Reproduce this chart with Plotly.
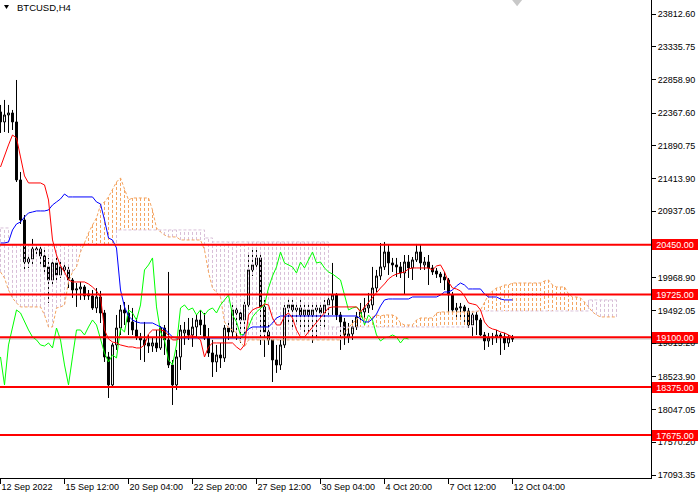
import plotly.graph_objects as go

# ---------------- data ----------------
symbol_title = "BTCUSD,H4"

bar_open = [22385, 22239, 22341, 22370, 22239, 21394, 20811, 20198, 20242, 20373,
            20388, 20286, 20126, 19936, 20184, 20009, 20126, 20082, 19936, 19790,
            19805, 19834, 19732, 19703, 19528, 19688, 19455, 18814, 18406, 18989,
            19236, 19499, 19455, 19324, 19207, 19105, 19062, 19018, 18974, 19018,
            18945, 19236, 19062, 18697, 18406, 18814, 19164, 19207, 19134, 19251,
            19353, 19280, 19091, 18872, 18741, 18843, 18799, 19236, 19178, 19499,
            19455, 19353, 19572, 20082, 20155, 20257, 19543, 19178, 19062, 18770,
            18697, 18989, 19528, 19572, 19499, 19528, 19426, 19499, 19426, 19499,
            19528, 19455, 19572, 19645, 19717, 19426, 19324, 19105, 19149, 19251,
            19397, 19470, 19528, 19572, 19819, 19994, 20126, 20344, 20184, 20155,
            20126, 20038, 20198, 20111, 20228, 20344, 20155, 20198, 20111, 20067,
            20023, 19980, 19936, 19717, 19499, 19528, 19543, 19484, 19280, 19426,
            19353, 19134, 19047, 19091, 19105, 19134, 19105, 19018, 19091]

bar_high = [22487, 22560, 22487, 22414, 22851, 21510, 20883, 20286, 20534, 20446,
            20417, 20373, 20257, 20242, 20257, 20198, 20198, 20155, 19965, 19892,
            19907, 19863, 19790, 19790, 19819, 19776, 19499, 18887, 19018, 19426,
            19572, 19615, 19572, 19528, 19382, 19164, 19324, 19134, 19091, 19207,
            19266, 19280, 20053, 18770, 18916, 19280, 19324, 19382, 19382, 19426,
            19499, 19455, 19236, 19062, 18989, 19018, 19280, 19309, 19572, 19572,
            19499, 19645, 20300, 20373, 20373, 20344, 19645, 19280, 19105, 18989,
            19062, 19572, 19674, 19674, 19615, 19674, 19601, 19601, 19572, 19601,
            19572, 19645, 19688, 20184, 19747, 19470, 19382, 19309, 19353, 19470,
            19601, 19674, 19747, 20126, 20082, 20475, 20490, 20446, 20257, 20257,
            20198, 20300, 20300, 20271, 20461, 20446, 20271, 20300, 20155, 20111,
            20053, 20053, 19965, 19761, 19601, 19601, 19572, 19528, 19470, 19470,
            19382, 19178, 19164, 19164, 19207, 19164, 19164, 19134, 19134]

bar_low = [22079, 22093, 22079, 22122, 21364, 20752, 20053, 20111, 20140, 20286,
           20155, 20038, 19601, 19863, 19892, 19965, 20009, 19819, 19674, 19543,
           19645, 19645, 19645, 19499, 19455, 19309, 18741, 18216, 18362, 18916,
           19134, 19280, 19134, 19134, 19062, 18770, 18741, 18872, 18887, 18887,
           18916, 18843, 18653, 18114, 18333, 18624, 18989, 19062, 18960, 19091,
           19134, 19062, 18814, 18522, 18595, 18653, 18741, 19062, 19105, 19062,
           19018, 19091, 19499, 19994, 20111, 18989, 18814, 18989, 18449, 18581,
           18624, 18945, 19324, 19207, 19324, 19207, 19178, 19164, 19018, 19105,
           19266, 19251, 19397, 19426, 19353, 18916, 18989, 19018, 19062, 19207,
           19353, 19382, 19455, 19499, 19761, 19936, 20082, 20009, 20053, 19980,
           19965, 19717, 19965, 19936, 20198, 20082, 20082, 19863, 20009, 19965,
           19892, 19790, 19470, 19470, 19353, 19353, 19280, 19236, 19120, 19134,
           19120, 18916, 18960, 18989, 19018, 18843, 18916, 18960, 19032]

bar_close = [22239, 22341, 22370, 22239, 21394, 20811, 20198, 20242, 20388, 20388,
             20286, 20126, 19936, 20184, 20009, 20126, 20082, 19936, 19790, 19805,
             19834, 19703, 19703, 19528, 19688, 19455, 18814, 18406, 18989, 19236,
             19499, 19455, 19324, 19207, 19105, 19062, 18989, 18974, 19018, 18945,
             19236, 19062, 18697, 18406, 18814, 19207, 19207, 19134, 19251, 19353,
             19280, 19091, 18872, 18741, 18843, 18799, 19236, 19178, 19499, 19455,
             19353, 19572, 20082, 20155, 20257, 19543, 19178, 19062, 18770, 18697,
             18989, 19528, 19572, 19499, 19528, 19426, 19499, 19426, 19499, 19528,
             19455, 19572, 19645, 19717, 19426, 19324, 19134, 19149, 19251, 19397,
             19470, 19528, 19572, 19819, 19994, 20126, 20344, 20184, 20155, 20126,
             20038, 20198, 20111, 20228, 20344, 20184, 20198, 20111, 20053, 20023,
             19980, 19936, 19717, 19499, 19528, 19543, 19484, 19280, 19426, 19353,
             19134, 19047, 19091, 19105, 19134, 19105, 19018, 19091, 19076]

tenkan = [21583, 21758, 21904, 22049, 22006, 21729, 21452, 21350, 21350, 21350,
          21350, 21321, 21102, 20519, 20300, 20140, 20053, 19936, 19907, 19907,
          19907, 19907, 19878, 19834, 19776, 19688, 19207, 19076, 19032, 19018,
          18989, 18974, 18960, 18960, 18945, 18945, 18989, 19149, 19207, 19207,
          19207, 19193, 19120, 19062, 19062, 19091, 19105, 19120, 19120, 19105,
          19062, 18814, 18960, 19018, 19018, 19018, 19018, 19018, 19018, 18960,
          18916, 18989, 19426, 19499, 19528, 19543, 19586, 19572, 19382, 19280,
          19280, 19411, 19455, 19382, 19207, 19105, 19105, 19178, 19251, 19309,
          19382, 19470, 19528, 19543, 19543, 19543, 19543, 19543, 19543, 19543,
          19470, 19543, 19601, 19674, 19747, 19819, 19878, 19951, 19994, 20023,
          20038, 20053, 20096, 20111, 20111, 20111, 20111, 20111, 20082, 20140,
          20155, 20053, 19907, 19819, 19805, 19776, 19703, 19601, 19586, 19572,
          19499, 19324, 19251, 19222, 19207, 19178, 19164, 19134, 19105]

kijun = [20475, 20475, 20490, 20665, 20752, 20781, 20854, 20913, 20927, 20942,
         20942, 20942, 20956, 21029, 21073, 21117, 21189, 21146, 21146, 21146,
         21146, 21146, 21146, 21146, 21073, 21044, 20810, 20548, 20519, 20402,
         19790, 19543, 19411, 19353, 19324, 19309, 19309, 19309, 19309, 19280,
         19251, 19222, 19164, 19105, 19091, 19091, 19091, 19091, 19091, 19091,
         19091, 19091, 19091, 19091, 19091, 19091, 19091, 19091, 19091, 19091,
         19091, 19149, 19222, 19251, 19251, 19251, 19251, 19251, 19309, 19382,
         19411, 19411, 19411, 19411, 19411, 19411, 19411, 19411, 19411, 19411,
         19411, 19411, 19411, 19411, 19411, 19411, 19411, 19411, 19411, 19411,
         19368, 19324, 19324, 19368, 19440, 19557, 19645, 19659, 19659, 19659,
         19659, 19659, 19659, 19688, 19688, 19688, 19688, 19688, 19688, 19688,
         19717, 19761, 19761, 19790, 19849, 19892, 19863, 19805, 19805, 19805,
         19805, 19732, 19688, 19688, 19688, 19659, 19645, 19645, 19645]

senkou_a = [20053, 19965, 19790, 19674, 19601, 19543, 19543, 19543, 19543, 19543,
            19543, 19426, 19251, 19251, 19528, 19543, 19572, 19907, 20053, 20126,
            20344, 20475, 20621, 20737, 20840, 21029, 21073, 21146, 21248, 21364,
            21423, 21248, 21102, 21131, 21131, 21131, 21131, 21131, 20956, 20694,
            20635, 20592, 20563, 20563, 20563, 20519, 20519, 20519, 20519, 20519,
            20519, 20373, 20053, 19819, 19761, 19688, 19324, 19236, 19207, 19164,
            19032, 18960, 19062, 19062, 19062, 19062, 19062, 19062, 19062, 19062,
            19062, 19062, 19062, 19062, 19062, 19062, 19062, 19062, 19062, 19062,
            19062, 19062, 19062, 19062, 19062, 19062, 19164, 19236, 19309, 19353,
            19426, 19382, 19353, 19397, 19426, 19411, 19426, 19426, 19426, 19397,
            19309, 19280, 19280, 19280, 19353, 19382, 19382, 19382, 19382, 19455,
            19470, 19470, 19470, 19470, 19470, 19470, 19470, 19470, 19470, 19470,
            19499, 19615, 19717, 19776, 19819, 19834, 19863, 19863, 19892, 19892,
            19892, 19892, 19892, 19892, 19892, 19892, 19921, 19936, 19863, 19834,
            19834, 19834, 19732, 19688, 19688, 19674, 19615, 19543, 19470, 19426,
            19397, 19397, 19397, 19397, 19397]

senkou_b = [20694, 20694, 20446, 20446, 20446, 20446, 20446, 20446, 20446, 20446,
            20446, 20446, 20446, 20446, 20446, 20446, 20446, 20446, 20446, 20446,
            20446, 20446, 20446, 20446, 20446, 20446, 20446, 20446, 20446, 20665,
            20665, 20665, 20665, 20665, 20665, 20665, 20665, 20665, 20665, 20665,
            20665, 20665, 20665, 20665, 20665, 20665, 20665, 20665, 20665, 20665,
            20665, 20548, 20548, 20490, 20490, 20490, 20490, 20490, 20490, 20490,
            20490, 20490, 20490, 20490, 20490, 20490, 20490, 20490, 20490, 20490,
            20490, 20490, 20490, 20490, 20490, 20490, 20490, 20490, 20490, 20490,
            20490, 20490, 19251, 19251, 19251, 19251, 19251, 19251, 19251, 19251,
            19251, 19251, 19251, 19251, 19251, 19251, 19251, 19251, 19251, 19251,
            19251, 19251, 19251, 19251, 19251, 19251, 19251, 19251, 19251, 19251,
            19251, 19251, 19251, 19251, 19251, 19251, 19251, 19251, 19484, 19484,
            19484, 19484, 19484, 19484, 19484, 19484, 19484, 19484, 19484, 19484,
            19484, 19484, 19484, 19484, 19484, 19484, 19484, 19484, 19484, 19484,
            19484, 19484, 19484, 19484, 19484, 19484, 19484, 19645, 19645, 19645,
            19645, 19645, 19645, 19645, 19645]

chikou_shift = 26
bid_price = 19076

level_prices = [20450.00, 19725.00, 19100.00, 18375.00, 17675.00]

x_tick_bars = [0, 16, 32, 48, 64, 80, 96, 112, 128]
x_tick_labels = ["12 Sep 2022", "15 Sep 12:00", "20 Sep 04:00", "22 Sep 20:00",
                 "27 Sep 12:00", "30 Sep 04:00", "4 Oct 20:00", "7 Oct 12:00",
                 "12 Oct 04:00"]

y_tick_values = [23812.60, 23335.75, 22858.90, 22367.60, 21890.75, 21413.90,
                 20937.05, 19968.90, 19492.05, 19015.20, 18523.90, 18047.05,
                 17570.20, 17093.35]

# ---------------- styles ----------------
FONT = "Liberation Sans, Arial, sans-serif"
C_TENKAN = "#FF0000"
C_KIJUN = "#0000FF"
C_CHIKOU = "#00FF00"
C_SA = "#F4A460"
C_SB = "#D8BFD8"

idx = list(range(len(bar_close)))
cloud_idx = list(range(len(senkou_a)))

fig = go.Figure()

fig.add_trace(go.Candlestick(
    x=idx, open=bar_open, high=bar_high, low=bar_low, close=bar_close,
    increasing=dict(line=dict(color="black", width=1), fillcolor="white"),
    decreasing=dict(line=dict(color="black", width=1), fillcolor="black"),
    whiskerwidth=0, hoverinfo="skip", showlegend=False))

# cloud hatching: one dotted vertical per bar
bx, by, rx, ry = [], [], [], []
for i, a, b in zip(cloud_idx, senkou_a, senkou_b):
    if a >= b:
        bx += [i, i, None]
        by += [a, b, None]
    else:
        rx += [i, i, None]
        ry += [a, b, None]

fig.add_trace(go.Scatter(x=bx, y=by, mode="lines", connectgaps=False,
                         line=dict(color=C_SA, width=1, dash="3px,2px"),
                         hoverinfo="skip", showlegend=False))
fig.add_trace(go.Scatter(x=rx, y=ry, mode="lines", connectgaps=False,
                         line=dict(color=C_SB, width=1, dash="3px,2px"),
                         hoverinfo="skip", showlegend=False))
fig.add_trace(go.Scatter(x=cloud_idx, y=senkou_b, mode="lines",
                         line=dict(color=C_SB, width=1, dash="3px,2px", shape="hv"),
                         hoverinfo="skip", showlegend=False))
fig.add_trace(go.Scatter(x=cloud_idx, y=senkou_a, mode="lines",
                         line=dict(color=C_SA, width=1, dash="3px,2px"),
                         hoverinfo="skip", showlegend=False))

# chikou span = closes plotted 26 bars back
fig.add_trace(go.Scatter(x=idx[:len(idx) - chikou_shift], y=bar_close[chikou_shift:],
                         mode="lines", line=dict(color=C_CHIKOU, width=1),
                         hoverinfo="skip", showlegend=False))
fig.add_trace(go.Scatter(x=idx, y=kijun, mode="lines",
                         line=dict(color=C_KIJUN, width=1),
                         hoverinfo="skip", showlegend=False))
fig.add_trace(go.Scatter(x=idx, y=tenkan, mode="lines",
                         line=dict(color=C_TENKAN, width=1),
                         hoverinfo="skip", showlegend=False))

# bid line
fig.add_shape(type="line", xref="paper", x0=0, x1=1, yref="y", y0=bid_price, y1=bid_price,
              line=dict(color="#C0C0C0", width=1), layer="below")

# horizontal levels + red price tags
for p in level_prices:
    fig.add_shape(type="line", xref="paper", x0=0, x1=1, yref="y", y0=p, y1=p,
                  line=dict(color="#FF0000", width=2), layer="above")
    fig.add_annotation(xref="paper", x=1, xanchor="left", xshift=1,
                       yref="y", y=p, yanchor="middle",
                       text=f"{p:.2f}", showarrow=False,
                       bgcolor="#FF0000", width=46, height=11,
                       borderpad=0, borderwidth=0,
                       font=dict(family=FONT, size=9, color="white"))

# black bid marker on the price scale
fig.add_shape(type="line", xref="paper", x0=1.0, x1=1.072, yref="y",
              y0=19022, y1=19022, line=dict(color="black", width=2))

# title
fig.add_shape(type="path", xref="paper", yref="paper",
              path="M 0.0061,0.9895 L 0.0138,0.9895 L 0.0100,0.9812 Z",
              fillcolor="black", line=dict(color="black", width=0))
fig.add_annotation(xref="paper", yref="paper", x=0.0225, y=0.9843,
                   xanchor="left", yanchor="middle", text=symbol_title,
                   showarrow=False, font=dict(family=FONT, size=9.5, color="black"))

# chart-shift marker
fig.add_shape(type="path", xref="x", yref="paper",
              path="M 127.9,1 L 130.4,1 L 129.15,0.987 Z",
              fillcolor="#C8C8C8", line=dict(color="#C8C8C8", width=0))

fig.update_layout(
    width=700, height=500,
    margin=dict(l=0, r=49, t=0, b=22),
    paper_bgcolor="white", plot_bgcolor="white",
    showlegend=False, hovermode=False,
    font=dict(family=FONT, size=9, color="black"),
    xaxis=dict(range=[-0.125, 162.625], showgrid=False, zeroline=False,
               showline=True, linecolor="black", linewidth=1,
               ticks="outside", ticklen=5, tickcolor="black", tickwidth=1,
               tickvals=x_tick_bars, ticktext=x_tick_labels,
               ticklabelposition="outside right",
               rangeslider=dict(visible=False), fixedrange=True,
               tickfont=dict(family=FONT, size=9, color="black")),
    yaxis=dict(range=[17049.6, 24016.7], side="right", showgrid=False,
               zeroline=False, showline=True, linecolor="black", linewidth=1,
               ticks="outside", ticklen=4, tickcolor="black", tickwidth=1,
               tickvals=y_tick_values, ticktext=[f"{v:.2f}" for v in y_tick_values],
               fixedrange=True,
               tickfont=dict(family=FONT, size=9, color="black")),
)

fig.write_html("out.html", config={"displayModeBar": False, "staticPlot": True},
               post_script="document.body.style.margin='0';")
